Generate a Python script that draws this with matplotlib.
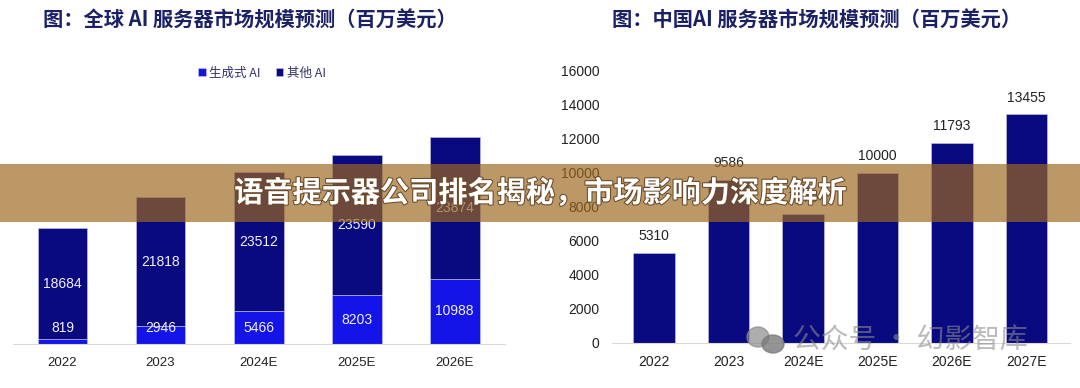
import matplotlib
matplotlib.use("Agg")
import matplotlib.pyplot as plt
import matplotlib.patheffects as pe
from matplotlib.patches import Rectangle, Ellipse
import numpy as np

plt.rcParams['font.family'] = ['Liberation Sans', 'Noto Sans CJK SC', 'DejaVu Sans']

# global AI server market (million USD)
years_global = ["2022", "2023", "2024E", "2025E", "2026E"]
gen_ai = [819, 2946, 5466, 8203, 10988]
other_ai = [18684, 21818, 23512, 23590, 23874]

# China AI server market (million USD)
years_china = ["2022", "2023", "2024E", "2025E", "2026E", "2027E"]
china_vals = [5310, 9586, 7570, 10000, 11793, 13455]
china_ticks = [0, 2000, 4000, 6000, 8000, 10000, 12000, 14000, 16000]

title_left = "图：全球 AI 服务器市场规模预测（百万美元）"
title_right = "图：中国AI 服务器市场规模预测（百万美元）"
banner_text = "语音提示器公司排名揭秘，市场影响力深度解析"
watermark = "公众号 · 幻影智库"

NAVY = "#0a0a80"
BLUE = "#1414e8"
TITLE_C = "#1c2166"
CJK = ['Noto Sans CJK SC', 'DejaVu Sans']

W, H = 1080, 388
fig = plt.figure(figsize=(W / 100, H / 100), dpi=100)

# ---- left chart: stacked bars
axl = fig.add_axes([13 / W, 44 / H, 492 / W, 238 / H])
x = np.arange(len(years_global))
b1 = axl.bar(x, gen_ai, width=0.51, color=BLUE, edgecolor="#c8c8f0", linewidth=0.4, label="生成式 AI")
b2 = axl.bar(x, other_ai, width=0.51, bottom=gen_ai, color=NAVY, edgecolor="#c8c8f0", linewidth=0.4, label="其他 AI")
for i in range(len(x)):
    axl.text(x[i], max(gen_ai[i] / 2, 2700), str(gen_ai[i]), ha="center", va="center",
             color="#f0f0ff", fontsize=10)
    axl.text(x[i], gen_ai[i] + other_ai[i] / 2, str(other_ai[i]), ha="center", va="center",
             color="#f0f0ff", fontsize=10)
axl.set_xlim(-0.505, 4.515)
axl.set_ylim(0, 40000)
axl.set_xticks(x)
axl.set_xticklabels(years_global, fontsize=9.5, color="#222222")
axl.tick_params(axis="x", length=0, pad=9)
axl.set_yticks([])
for s in ["top", "right", "left"]:
    axl.spines[s].set_visible(False)
axl.spines["bottom"].set_color("#d9d9d9")
leg = fig.legend(handles=[b1, b2], loc="center", bbox_to_anchor=(262 / W, 1 - 73 / H), ncol=2,
                 frameon=False, handlelength=0.6, handleheight=0.6,
                 handletextpad=0.3, columnspacing=1.2, prop={'family': CJK, 'size': 9})
for t in leg.get_texts():
    t.set_color("#333366")

fig.text(43 / W, 1 - 20 / H, title_left, family=CJK, fontsize=14.6, fontweight="bold",
         color=TITLE_C, ha="left", va="center")

# ---- right chart: simple bars
axr = fig.add_axes([612 / W, 45 / H, 458 / W, 272 / H])
xr = np.arange(len(years_china))
bars = axr.bar(xr, china_vals, width=0.56, color=NAVY, edgecolor="#c8c8f0", linewidth=0.4)
axr.bar_label(bars, labels=[str(v) for v in china_vals], padding=7, fontsize=10, color="#222222")
axr.set_xlim(-0.564, 5.584)
axr.set_ylim(0, 16000)
axr.set_yticks(china_ticks)
axr.set_yticklabels([str(t) for t in china_ticks], fontsize=10, color="#222222")
axr.set_xticks(xr)
axr.set_xticklabels(years_china, fontsize=10, color="#222222")
axr.tick_params(axis="x", length=0, pad=9)
axr.tick_params(axis="y", length=0, pad=9)
for s in ["top", "right", "left"]:
    axr.spines[s].set_visible(False)
axr.spines["bottom"].set_color("#d9d9d9")

fig.text(612 / W, 1 - 20 / H, title_right, family=CJK, fontsize=14.6, fontweight="bold",
         color=TITLE_C, ha="left", va="center")

# ---- watermark
fig.patches.append(Ellipse((758 / W, 1 - 337 / H), 22 / W, 20 / H, transform=fig.transFigure,
                           color="#8a8a8a", alpha=0.7, zorder=8))
fig.patches.append(Ellipse((773 / W, 1 - 344 / H), 22 / W, 18 / H, transform=fig.transFigure,
                           color="#7a7a7a", alpha=0.8, zorder=8))
fig.text(793 / W, 1 - 341 / H, watermark, family=CJK, fontsize=20, color="#8c8c8c",
         alpha=0.6, ha="left", va="center", zorder=9)

# ---- overlay banner
fig.patches.append(Rectangle((0, 1 - 222 / H), 1, 58 / H, transform=fig.transFigure,
                             facecolor=(155 / 255, 103 / 255, 30 / 255), alpha=0.68,
                             edgecolor="none", zorder=10))
fig.text(0.5, 1 - 193 / H, banner_text, family=CJK, fontsize=21, fontweight="bold",
         color="white", ha="center", va="center", zorder=11,
         path_effects=[pe.withStroke(linewidth=1.5, foreground="#6b4a2a")])

fig.savefig("out.png", dpi=100)
